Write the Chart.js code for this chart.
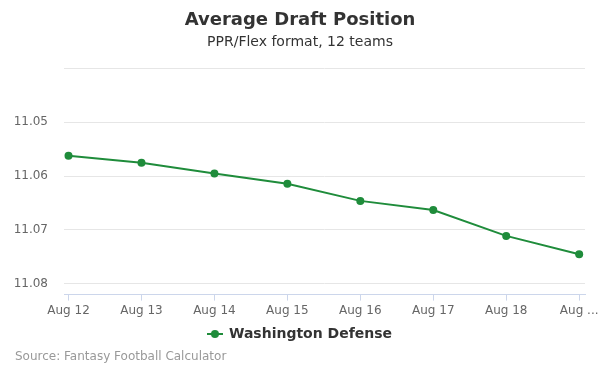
<!DOCTYPE html>
<html>
<head>
<meta charset="utf-8">
<script src="https://cdn.jsdelivr.net/npm/chart.js@4"></script>
<style>
  body { margin: 0; background: #fff; }
  #wrap { position: relative; width: 600px; height: 375px; }
  #source { position: absolute; left: 15px; top: 349px; font: 12px "DejaVu Sans", sans-serif; color: #999; }
</style>
</head>
<body>
<div id="wrap">
  <canvas id="grafico" width="600" height="375"></canvas>
  <div id="source">Source: Fantasy Football Calculator</div>
</div>
<script>
const categorias = ["Aug 12", "Aug 13", "Aug 14", "Aug 15", "Aug 16", "Aug 17", "Aug 18", "Aug ..."];
const valores = [11.0562, 11.0575, 11.0595, 11.0614, 11.0646, 11.0663, 11.0711, 11.0745];
const ticksY = [11.04, 11.05, 11.06, 11.07, 11.08];
const verde = "#1f8c3b";

// marcador de la leyenda: linea con punto
const marcador = document.createElement("canvas");
marcador.width = 16;
marcador.height = 10;
const mctx = marcador.getContext("2d");
mctx.strokeStyle = verde;
mctx.lineWidth = 2;
mctx.beginPath();
mctx.moveTo(0, 5);
mctx.lineTo(16, 5);
mctx.stroke();
mctx.fillStyle = verde;
mctx.beginPath();
mctx.arc(8, 5, 4, 0, Math.PI * 2);
mctx.fill();

Chart.defaults.font.family = "'DejaVu Sans', sans-serif";

const context = document.getElementById("grafico");
new Chart(context, {
  type: "line",
  data: {
    datasets: [
      {
        label: "Washington Defense",
        data: valores.map(function (v, i) {
          return { x: i, y: v };
        }),
        borderColor: verde,
        backgroundColor: verde,
        borderWidth: 2,
        pointRadius: 4,
        pointHoverRadius: 4,
        pointBorderWidth: 0,
        pointStyle: "circle",
        tension: 0,
      },
    ],
  },
  options: {
    responsive: false,
    animation: false,
    layout: { padding: { left: 15, right: 15, bottom: 24 } },
    plugins: {
      title: {
        display: true,
        text: "Average Draft Position",
        color: "#333",
        font: { size: 18, weight: "bold" },
        padding: { top: 10, bottom: 2 },
      },
      subtitle: {
        display: true,
        text: "PPR/Flex format, 12 teams",
        color: "#333",
        font: { size: 14 },
        padding: { top: 0, bottom: 18 },
      },
      legend: {
        position: "bottom",
        labels: {
          usePointStyle: true,
          pointStyle: marcador,
          color: "#333",
          font: { size: 14, weight: "bold" },
          padding: 6,
        },
      },
      tooltip: { enabled: false },
    },
    scales: {
      x: {
        type: "linear",
        min: -0.062,
        max: 7.08,
        afterBuildTicks: function (scale) {
          scale.ticks = categorias.map(function (c, i) {
            return { value: i };
          });
        },
        afterFit: function (scale) {
          scale.paddingLeft = 0;
          scale.paddingRight = 0;
        },
        ticks: {
          color: "#666",
          font: { size: 12 },
          padding: 3,
          maxRotation: 0,
          autoSkip: false,
          callback: function (value) {
            return categorias[value];
          },
        },
        grid: {
          drawOnChartArea: false,
          color: "#ccd6eb",
          tickLength: 6,
        },
        border: { color: "#ccd6eb" },
      },
      y: {
        reverse: true,
        min: 11.04,
        max: 11.082,
        afterBuildTicks: function (scale) {
          scale.ticks = ticksY.map(function (v) {
            return { value: v };
          });
        },
        afterFit: function (scale) {
          scale.width = 49;
        },
        ticks: {
          color: "#666",
          font: { size: 12 },
          padding: 16,
          callback: function (value) {
            return value === 11.04 ? "" : value.toFixed(2);
          },
        },
        grid: { color: "#e6e6e6", drawTicks: false },
        border: { display: false },
      },
    },
  },
});
</script>
</body>
</html>
